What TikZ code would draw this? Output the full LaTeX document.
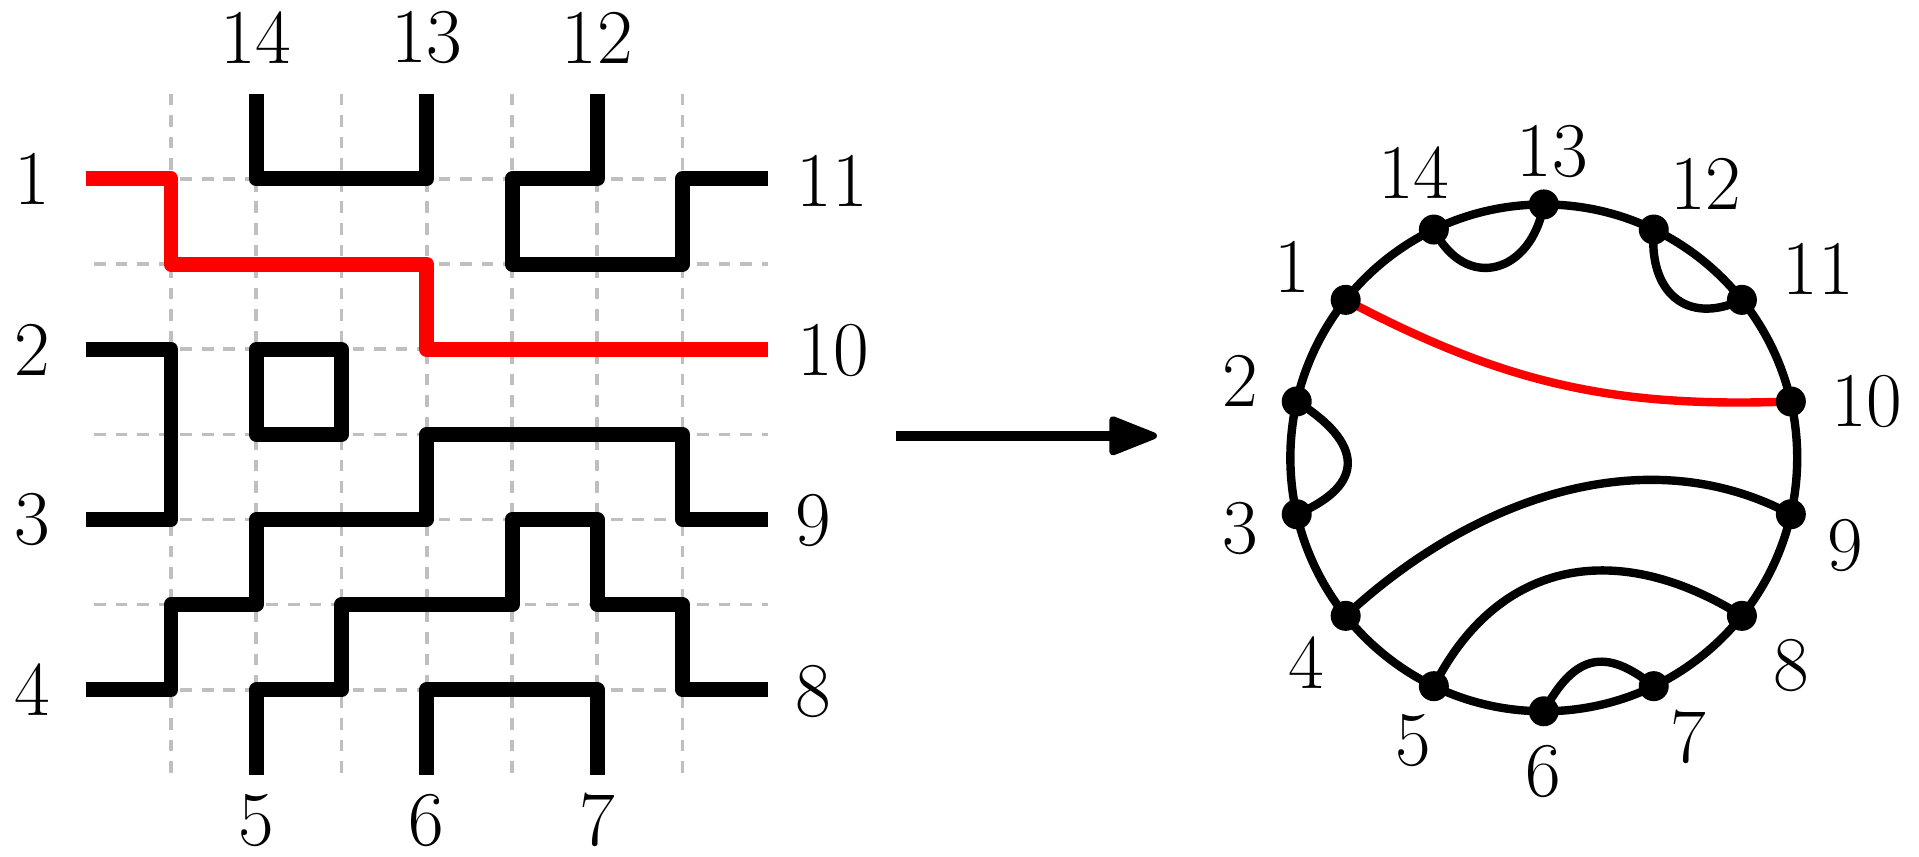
\documentclass[tikz,border=0pt]{standalone}
\usetikzlibrary{arrows.meta}
\pgfdeclarelayer{edges}
\pgfsetlayers{edges,main}
\definecolor{gridgray}{RGB}{191,191,191}
\definecolor{pathred}{RGB}{255,0,0}
\begin{document}
\begin{tikzpicture}[x=0.01cm,y=0.01cm,
  lbl/.style={inner sep=0pt, font=\fontsize{18}{20}\selectfont},
  gridline/.style={draw=gridgray, line width=0.85pt, dash pattern=on 2.7pt off 2.3pt},
  lattice/.style={line width=3.47pt, line join=round, line cap=butt},
  chord/.style={line width=1.95pt},
  dot/.style={circle, fill=black, inner sep=0pt, minimum size=0.245cm},
  bigarrow/.style={line width=2.35pt, -{Triangle[length=12.5pt,width=9.4pt,line width=1.6pt,round]}}
]
\useasboundingbox (0,0) rectangle (1567.5,700);

% ---------- left: lattice paths ----------
\begin{scope}[xshift=0.70cm, yshift=6.23cm, x=0.696cm, y=-0.695cm]
  \foreach \i in {1,...,7} \draw[gridline] (\i,0) -- (\i,8);
  \foreach \j in {1,...,7} \draw[gridline] (0.1,\j) -- (8,\j);
  \draw[lattice] (2,0) -- (2,1) -- (4,1) -- (4,0);
  \draw[lattice] (6,0) -- (6,1) -- (5,1) -- (5,2) -- (7,2) -- (7,1) -- (8,1);
  \draw[lattice] (0,3) -- (1,3) -- (1,5) -- (0,5);
  \draw[lattice] (2,3) rectangle (3,4);
  \draw[lattice] (0,7) -- (1,7) -- (1,6) -- (2,6) -- (2,5) -- (4,5) -- (4,4) -- (7,4) -- (7,5) -- (8,5);
  \draw[lattice] (2,8) -- (2,7) -- (3,7) -- (3,6) -- (5,6) -- (5,5) -- (6,5) -- (6,6) -- (7,6) -- (7,7) -- (8,7);
  \draw[lattice] (4,8) -- (4,7) -- (6,7) -- (6,8);
  \draw[lattice, pathred] (0,1) -- (1,1) -- (1,2) -- (4,2) -- (4,3) -- (8,3);
\end{scope}

\node[lbl] (L1) at (26,553.5) {1};
\node[lbl] (L2) at (26,414.5) {2};
\node[lbl] (L3) at (26,275.5) {3};
\node[lbl] (L4) at (26,136.5) {4};
\node[lbl] (R11) at (680,552.5) {11};
\node[lbl] (R10) at (680.5,413.5) {10};
\node[lbl] (R9) at (664,274.5) {9};
\node[lbl] (R8) at (664.5,135.5) {8};
\node[lbl] (T14) at (209,669) {14};
\node[lbl] (T13) at (348.5,669) {13};
\node[lbl] (T12) at (488,669) {12};
\node[lbl] (B5) at (209,30) {5};
\node[lbl] (B6) at (348.5,30) {6};
\node[lbl] (B7) at (488,30) {7};

% ---------- arrow ----------
\coordinate (a0) at (732,344);
\coordinate (a1) at (945,344);
\draw[bigarrow] (a0) -- (a1);

% ---------- right: chord diagram ----------
\coordinate (O) at (1261,326);
\foreach \n in {1,...,14} {
  \pgfmathsetmacro\ang{90+mod(\n+1,14)*360/14}
  \node[dot] (p\n) at ([shift={(\ang:207)}]O) {};
}
\begin{pgfonlayer}{edges}
  \draw[chord] (O) circle[radius=207];
  \draw[chord, pathred] (p1.center) to[bend right=15] (p10.center);
  \draw[chord] (p14.center) to[out=-63,in=-100,looseness=1.6] (p13.center);
  \draw[chord] (p12.center) to[out=-95,in=-155,looseness=1.4] (p11.center);
  \draw[chord] (p2.center) to[out=-32,in=23,looseness=1.75] (p3.center);
  \draw[chord] (p4.center) to[out=43,in=152,looseness=0.94] (p9.center);
  \draw[chord] (p5.center) to[out=63,in=148,looseness=1.17] (p8.center);
  \draw[chord] (p6.center) to[out=61.5,in=141,looseness=1.44] (p7.center);
\end{pgfonlayer}

\node[lbl] (q1) at (1055.3,481.7) {1};
\node[lbl] (q14) at (1154.9,559.2) {14};
\node[lbl] (q13) at (1267.9,576.6) {13};
\node[lbl] (q12) at (1393.2,549.6) {12};
\node[lbl] (q11) at (1485,480.4) {11};
\node[lbl] (q10) at (1524.7,372) {10};
\node[lbl] (q9) at (1507.2,254.8) {9};
\node[lbl] (q8) at (1462.8,156.8) {8};
\node[lbl] (q7) at (1379,98.1) {7};
\node[lbl] (q6) at (1260.5,70.2) {6};
\node[lbl] (q5) at (1154.6,95) {5};
\node[lbl] (q4) at (1066.9,159) {4};
\node[lbl] (q3) at (1012.8,268) {3};
\node[lbl] (q2) at (1013,388.7) {2};
\end{tikzpicture}
\end{document}
